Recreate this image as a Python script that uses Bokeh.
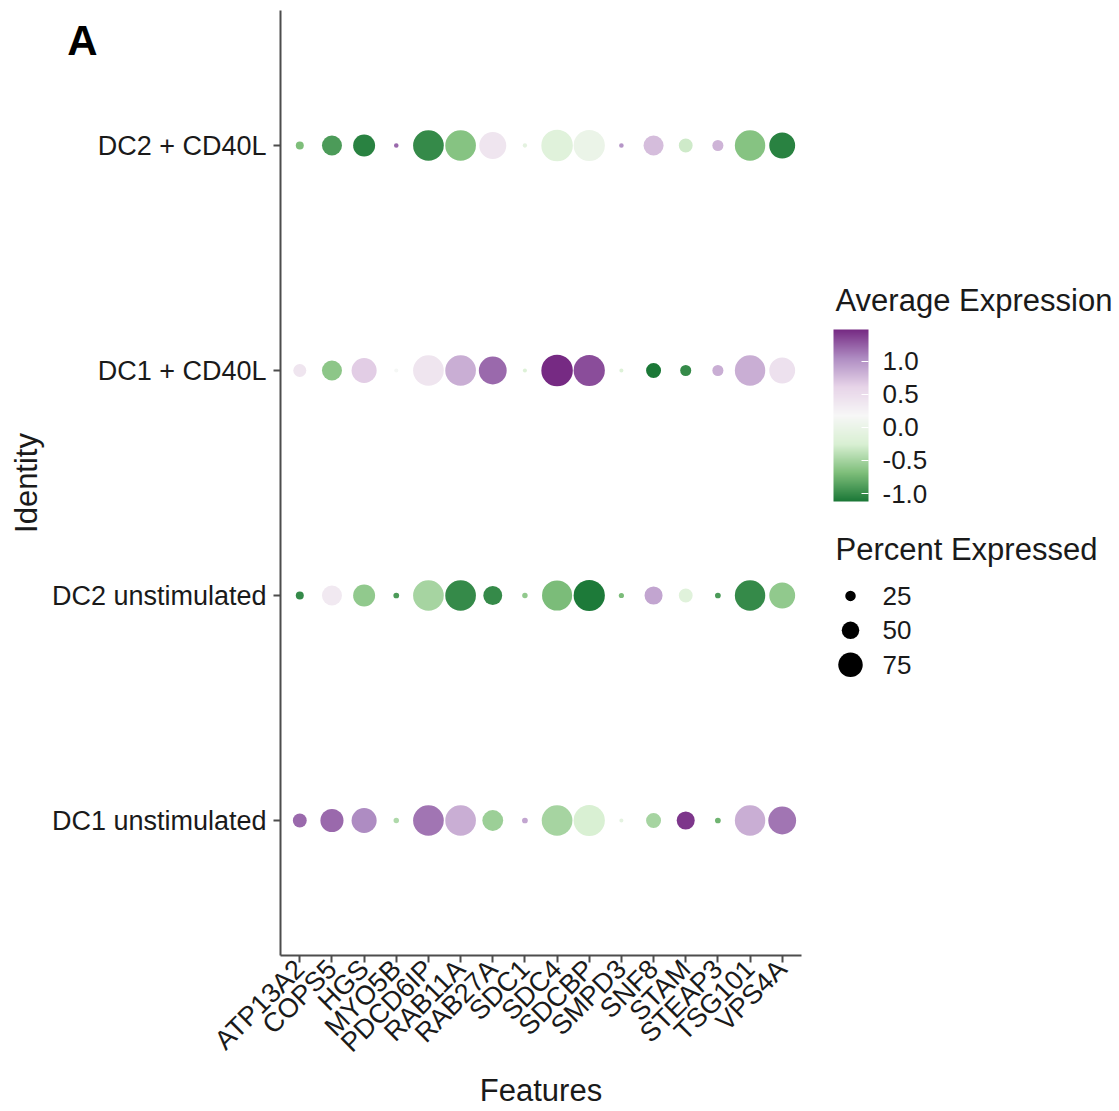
import math

from bokeh.embed import file_html
from bokeh.layouts import row
from bokeh.models import (CategoricalAxis, ColorBar, ColumnDataSource, FactorRange, FixedTicker,
                          Label, LinearColorMapper, LinearInterpolator, NumeralTickFormatter,
                          Range1d)
from bokeh.plotting import figure
from bokeh.resources import INLINE
from bokeh.transform import transform

FONT = "Liberation Sans"

# genes on the x axis
features = ["ATP13A2", "COPS5", "HGS", "MYO5B", "PDCD6IP", "RAB11A", "RAB27A", "SDC1",
            "SDC4", "SDCBP", "SMPD3", "SNF8", "STAM", "STEAP3", "TSG101", "VPS4A"]

# identities, bottom to top
identities = ["DC1 unstimulated", "DC2 unstimulated", "DC1 + CD40L", "DC2 + CD40L"]

# scaled average expression per identity (one value per gene)
avg_dc1_unstim = [1.20, 1.20, 1.05, -0.45, 1.15, 0.85, -0.55, 0.90, -0.50, -0.25, -0.10, -0.50, 1.42, -0.75, 0.85, 1.15]
avg_dc2_unstim = [-1.00, 0.35, -0.60, -0.90, -0.50, -1.00, -1.00, -0.60, -0.70, -1.10, -0.70, 0.90, -0.15, -0.90, -1.00, -0.60]
avg_dc1_cd40l = [0.40, -0.62, 0.65, 0.15, 0.40, 0.85, 1.20, -0.20, 1.48, 1.32, -0.20, -1.12, -1.00, 0.85, 0.85, 0.45]
avg_dc2_cd40l = [-0.69, -0.90, -1.05, 1.20, -1.00, -0.65, 0.40, -0.10, -0.15, 0.00, 1.00, 0.75, -0.30, 0.80, -0.65, -1.05]

# percent of cells expressing each gene
pct_dc1_unstim = [37, 70, 77, 7, 97, 97, 62, 8, 97, 99, 2, 41, 52, 8, 96, 87]
pct_dc2_unstim = [16, 59, 66, 8, 97, 97, 55, 7, 95, 99, 6, 52, 37, 8, 96, 80]
pct_dc1_cd40l = [34, 59, 77, 2, 97, 97, 87, 2, 100, 99, 2, 41, 27, 27, 96, 80]
pct_dc2_cd40l = [16, 59, 66, 4, 97, 97, 84, 3, 100, 99, 4, 59, 37, 27, 96, 80]

colorbar_ticks = [-1.0, -0.5, 0.0, 0.5, 1.0]
size_breaks = [25, 50, 75]

# PRGn (7 classes), low -> high runs green -> white -> purple
prgn = ["#1B7837", "#7FBF7B", "#D9F0D3", "#F7F7F7", "#E7D4E8", "#AF8DC3", "#762A83"]


def ramp(stops, n=256):
    rgb = [tuple(int(s[i:i + 2], 16) for i in (1, 3, 5)) for s in stops]
    out = []
    for k in range(n):
        t = k / (n - 1) * (len(rgb) - 1)
        i = min(int(t), len(rgb) - 2)
        f = t - i
        c = [round(rgb[i][j] + (rgb[i + 1][j] - rgb[i][j]) * f) for j in range(3)]
        out.append("#%02x%02x%02x" % tuple(c))
    return out


avg_rows = [avg_dc1_unstim, avg_dc2_unstim, avg_dc1_cd40l, avg_dc2_cd40l]
pct_rows = [pct_dc1_unstim, pct_dc2_unstim, pct_dc1_cd40l, pct_dc2_cd40l]

xs, ys, avg, pct = [], [], [], []
for ident, a_row, p_row in zip(identities, avg_rows, pct_rows):
    for feat, a, pc in zip(features, a_row, p_row):
        xs.append(feat)
        ys.append(ident)
        avg.append(a)
        pct.append(pc)

src = ColumnDataSource(dict(feature=xs, identity=ys, avg=avg, pct=pct))

all_avg = [v for r in avg_rows for v in r]
mapper = LinearColorMapper(palette=ramp(prgn), low=min(all_avg), high=max(all_avg))
radius_scale = LinearInterpolator(x=[0, 100], y=[3.5, 31.5])

# panel geometry (pixels)
FRAME_TOP, FRAME_BOTTOM = 10, 956

p = figure(
    x_range=FactorRange(*features, range_padding=0.1, range_padding_units="absolute"),
    y_range=FactorRange(*identities, range_padding=0.1, range_padding_units="absolute"),
    width=815, height=1111, output_backend="svg", toolbar_location=None,
    min_border_left=280, min_border_right=14, min_border_top=FRAME_TOP,
    min_border_bottom=1111 - FRAME_BOTTOM,
)
p.outline_line_color = None
p.grid.visible = False
p.background_fill_color = "white"

p.scatter(x="feature", y="identity", source=src,
          size=transform("pct", radius_scale),
          fill_color=transform("avg", mapper), line_color=None)

for ax in (p.xaxis[0], p.yaxis[0]):
    ax.axis_line_color = "#4d4d4d"
    ax.axis_line_width = 2
    ax.major_tick_line_color = "#4d4d4d"
    ax.major_tick_line_width = 2
    ax.major_tick_out = 7
    ax.major_tick_in = 0
    ax.minor_tick_line_color = None
    ax.major_label_text_font = FONT
    ax.major_label_text_font_size = "27px"
    ax.major_label_text_color = "#1a1a1a"
    ax.axis_label_text_font = FONT
    ax.axis_label_text_font_size = "31px"
    ax.axis_label_text_font_style = "normal"
    ax.axis_label_text_color = "#1a1a1a"

p.xaxis.axis_label = "Features"
p.xaxis.major_label_orientation = math.pi / 4
p.xaxis.major_label_standoff = 2
p.xaxis.axis_label_standoff = 2
p.yaxis.axis_label = "Identity"
p.yaxis.major_label_standoff = 7
p.yaxis.axis_label_standoff = 5

# panel tag "A": a bare outer categorical axis; only its top slot shows text,
# the other slots are short distinct blank strings
blank_chars = [" ", "\u00a0", "\u2009", "\u200a"]
blanks = blank_chars + [a + b for a in blank_chars for b in blank_chars]
tag_slots = blanks[:15] + ["A"]
p.extra_y_ranges = {"tag": FactorRange(*tag_slots)}
tag_axis = CategoricalAxis(
    y_range_name="tag",
    axis_line_color=None, major_tick_line_color=None, minor_tick_line_color=None,
    major_tick_out=0, major_tick_in=0, major_label_standoff=-92,
    major_label_text_font=FONT, major_label_text_font_size="42px",
    major_label_text_font_style="bold", major_label_text_color="black",
)
p.add_layout(tag_axis, "left")

# legend panel; its frame lines up with the main frame, y runs downward in pixels
lf = figure(width=304, height=1111, x_range=Range1d(0, 304),
            y_range=Range1d(FRAME_BOTTOM, FRAME_TOP),
            output_backend="svg", toolbar_location=None, min_border=0,
            min_border_top=FRAME_TOP, min_border_bottom=1111 - FRAME_BOTTOM)
lf.axis.visible = False
lf.grid.visible = False
lf.outline_line_color = None

cb = ColorBar(
    color_mapper=mapper, width=35, height=172, location=(18, FRAME_BOTTOM - 502),
    ticker=FixedTicker(ticks=colorbar_ticks), formatter=NumeralTickFormatter(format="0.0"),
    major_label_text_font=FONT, major_label_text_font_size="26px",
    major_label_text_color="#1a1a1a", label_standoff=14,
    major_tick_line_color="white", major_tick_in=7, major_tick_out=0,
    bar_line_color=None, border_line_color=None, background_fill_color=None,
    padding=0, margin=0,
)
lf.add_layout(cb)

lf.add_layout(Label(x=20, y=318, text="Average Expression", text_font=FONT,
                    text_font_size="31px", text_color="#1a1a1a"))
lf.add_layout(Label(x=20, y=567, text="Percent Expressed", text_font=FONT,
                    text_font_size="31px", text_color="#1a1a1a"))

leg_y0, leg_step = 596, 34.5
leg_src = ColumnDataSource(dict(
    x=[35] * len(size_breaks),
    y=[leg_y0 + i * leg_step for i in range(len(size_breaks))],
    pct=size_breaks,
    label=[str(s) for s in size_breaks],
))
lf.scatter(x="x", y="y", source=leg_src, size=transform("pct", radius_scale),
           fill_color="black", line_color=None)
lf.text(x=67, y="y", text="label", source=leg_src, text_font={"value": FONT},
        text_font_size="26px", text_baseline="middle", text_color="#1a1a1a")

layout = row(p, lf)
open("out.html", "w").write(file_html(layout, INLINE))
